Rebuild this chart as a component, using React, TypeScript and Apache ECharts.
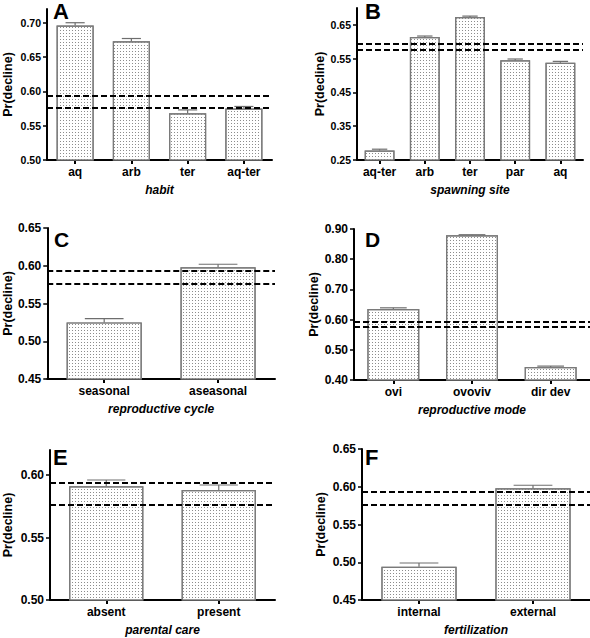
import React, { useEffect, useRef } from "react";
import * as echarts from "echarts";

const habitCats = ["aq", "arb", "ter", "aq-ter"];
const habitMean = [0.696, 0.673, 0.568, 0.575];
const habitUpper = [0.7, 0.677, 0.573, 0.578];

const spawnCats = ["aq-ter", "arb", "ter", "par", "aq"];
const spawnMean = [0.278, 0.614, 0.673, 0.545, 0.538];
const spawnUpper = [0.282, 0.617, 0.676, 0.549, 0.542];

const cycleCats = ["seasonal", "aseasonal"];
const cycleMean = [0.525, 0.598];
const cycleUpper = [0.53, 0.602];

const modeCats = ["ovi", "ovoviv", "dir dev"];
const modeMean = [0.635, 0.879, 0.443];
const modeUpper = [0.639, 0.881, 0.446];

const careCats = ["absent", "present"];
const careMean = [0.591, 0.588];
const careUpper = [0.596, 0.592];

const fertCats = ["internal", "external"];
const fertMean = [0.494, 0.598];
const fertUpper = [0.499, 0.602];

const refLines = [0.594, 0.576];

const ticksA = [0.5, 0.55, 0.6, 0.65, 0.7];
const ticksB = [0.25, 0.35, 0.45, 0.55, 0.65];
const ticksC = [0.45, 0.5, 0.55, 0.6, 0.65];
const ticksD = [0.4, 0.5, 0.6, 0.7, 0.8, 0.9];
const ticksE = [0.5, 0.55, 0.6];
const ticksF = [0.45, 0.5, 0.55, 0.6, 0.65];

const FONT = "'Liberation Sans', Arial, sans-serif";

type Panel = {
  letter: string;
  cats: string[];
  mean: number[];
  upper: number[];
  ticks: number[];
  min: number;
  max: number;
  name: string;
  grid: { left: number; top: number; width: number; height: number };
  tickFont: number;
  yGap: number;
  letterPos: [number, number, number];
};

const panels: Panel[] = [
  { letter: "A", cats: habitCats, mean: habitMean, upper: habitUpper, ticks: ticksA, min: 0.5, max: 0.72, name: "habit",
    grid: { left: 44, top: 9, width: 228, height: 151 }, tickFont: 10.5, yGap: 33, letterPos: [53, 0, 22] },
  { letter: "B", cats: spawnCats, mean: spawnMean, upper: spawnUpper, ticks: ticksB, min: 0.25, max: 0.7, name: "spawning site",
    grid: { left: 357, top: 8, width: 226, height: 152 }, tickFont: 10.5, yGap: 31, letterPos: [365, 0, 22] },
  { letter: "C", cats: cycleCats, mean: cycleMean, upper: cycleUpper, ticks: ticksC, min: 0.45, max: 0.65, name: "reproductive cycle",
    grid: { left: 44, top: 228, width: 231, height: 151 }, tickFont: 12, yGap: 33, letterPos: [54, 229, 21] },
  { letter: "D", cats: modeCats, mean: modeMean, upper: modeUpper, ticks: ticksD, min: 0.4, max: 0.9, name: "reproductive mode",
    grid: { left: 354, top: 229, width: 236, height: 151 }, tickFont: 12, yGap: 28, letterPos: [365, 229, 21] },
  { letter: "E", cats: careCats, mean: careMean, upper: careUpper, ticks: ticksE, min: 0.5, max: 0.62, name: "parental care",
    grid: { left: 46, top: 450, width: 229, height: 150 }, tickFont: 12, yGap: 36, letterPos: [53, 446, 22] },
  { letter: "F", cats: fertCats, mean: fertMean, upper: fertUpper, ticks: ticksF, min: 0.45, max: 0.65, name: "fertilization",
    grid: { left: 362, top: 449, width: 228, height: 151 }, tickFont: 12, yGap: 35, letterPos: [365, 446, 22] },
];

export default function App() {
  const ref = useRef<HTMLDivElement>(null);
  useEffect(() => {
    if (!ref.current) return;
    const chart = echarts.init(ref.current, undefined, { renderer: "svg" });

    const grids: any[] = [];
    const xAxes: any[] = [];
    const yAxes: any[] = [];
    const series: any[] = [];
    const graphics: any[] = [];

    panels.forEach((p, i) => {
      grids.push({ ...p.grid, containLabel: false });
      xAxes.push({
        type: "category",
        gridIndex: i,
        data: p.cats,
        name: p.name,
        nameLocation: "middle",
        nameGap: 24,
        nameTextStyle: { fontFamily: FONT, fontSize: 12, fontWeight: "bold", fontStyle: "italic", color: "#000" },
        axisLine: { lineStyle: { color: "#000", width: 2 } },
        axisTick: { show: true, alignWithLabel: true, length: 4, lineStyle: { color: "#000", width: 2 } },
        axisLabel: { fontFamily: FONT, fontSize: 12, fontWeight: "bold", color: "#000", margin: 6, interval: 0 },
        splitLine: { show: false },
      });
      yAxes.push({
        type: "value",
        gridIndex: i,
        min: p.min,
        max: p.max,
        name: "Pr(decline)",
        nameLocation: "middle",
        nameGap: p.yGap,
        nameTextStyle: { fontFamily: FONT, fontSize: 12.5, fontWeight: "bold", color: "#000" },
        axisLine: { show: true, lineStyle: { color: "#000", width: 2 } },
        axisTick: { show: true, length: 4, customValues: p.ticks, lineStyle: { color: "#000", width: 1.5 } },
        axisLabel: {
          fontFamily: FONT,
          fontSize: p.tickFont,
          fontWeight: "bold",
          color: "#000",
          margin: 6,
          customValues: p.ticks,
          formatter: (v: number) => v.toFixed(2),
        },
        splitLine: { show: false },
      });
      series.push({
        type: "bar",
        xAxisIndex: i,
        yAxisIndex: i,
        data: p.mean,
        barCategoryGap: "34%",
        clip: true,
        itemStyle: {
          color: "#ffffff",
          borderColor: "#7a7a7a",
          borderWidth: 1.2,
          decal: {
            symbol: "rect",
            symbolSize: 1,
            color: "#8c8c8c",
            dashArrayX: [1, 2],
            dashArrayY: [1, 2],
            rotation: 0,
          },
        },
        markLine: {
          silent: true,
          symbol: "none",
          precision: 4,
          label: { show: false },
          lineStyle: { type: [6, 3], color: "#000", width: 2 },
          data: refLines.map((v) => ({ yAxis: v })),
          z: 10,
        },
      });
      series.push({
        type: "custom",
        xAxisIndex: i,
        yAxisIndex: i,
        data: p.mean.map((m, k) => [k, m, p.upper[k]]),
        z: 5,
        renderItem: (params: any, api: any) => {
          const x = api.value(0);
          const m = api.value(1);
          const u = api.value(2);
          const p0 = api.coord([x, m]);
          const p1 = api.coord([x, u]);
          const bw = api.size([1, 0])[0];
          const half = bw * 0.17;
          const style = { stroke: "#6e6e6e", lineWidth: 1.2 };
          return {
            type: "group",
            children: [
              { type: "line", shape: { x1: p0[0], y1: p0[1], x2: p1[0], y2: p1[1] }, style },
              { type: "line", shape: { x1: p1[0] - half, y1: p1[1], x2: p1[0] + half, y2: p1[1] }, style },
            ],
          };
        },
      });
      graphics.push({
        type: "text",
        left: p.letterPos[0],
        top: p.letterPos[1],
        z: 100,
        style: {
          text: p.letter,
          fontFamily: FONT,
          fontSize: p.letterPos[2],
          fontWeight: "bold",
          fill: "#000",
        },
      });
    });

    chart.setOption({
      animation: false,
      backgroundColor: "#ffffff",
      grid: grids,
      xAxis: xAxes,
      yAxis: yAxes,
      series,
      graphic: graphics,
    });
    return () => chart.dispose();
  }, []);

  return (
    <div
      ref={ref}
      style={{ position: "fixed", left: 0, top: 0, width: 590, height: 638, background: "#fff" }}
    />
  );
}
